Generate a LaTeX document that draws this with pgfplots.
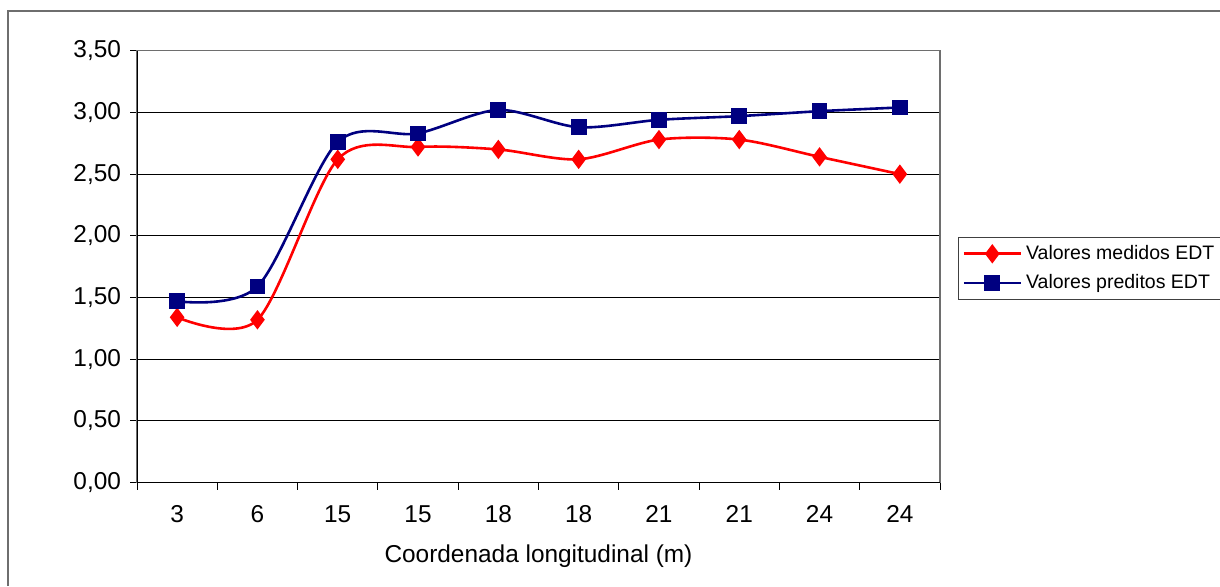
\documentclass[border=0pt]{standalone}
\usepackage{fontspec}
\setmainfont{Liberation Sans}
\usepackage{pgfplots}
\pgfplotsset{compat=1.18}

\definecolor{medido}{RGB}{255,0,0}
\definecolor{predito}{RGB}{0,0,128}
\definecolor{frame}{RGB}{110,110,110}

\begin{document}
\begin{tikzpicture}
\begin{axis}[
    at={(68.5pt,51.65pt)}, anchor=south west,
    scale only axis,
    width=401.5pt, height=216pt,
    xmin=0.5, xmax=10.5,
    ymin=0, ymax=3.5,
    xtick={1,...,10},
    xticklabels={3,6,15,15,18,18,21,21,24,24},
    minor xtick={0.5,1.5,...,10.5},
    major x tick style={draw=none},
    ytick={0,0.5,...,3.5},
    tick align=outside,
    tick pos=left,
    major tick length=3.5pt,
    minor tick length=3.5pt,
    tick style={black, line width=0.5pt},
    ymajorgrids,
    major grid style={black, line width=0.5pt},
    axis line style={frame, line width=0.6pt},
    ticklabel style={font=\fontsize{12.2}{14}\selectfont},
    yticklabel style={xshift=-1.0pt},
    xticklabel style={yshift=-4.5pt},
    /pgf/number format/.cd, fixed, fixed zerofill, precision=2, use comma,
    assume math mode=true,
    /pgfplots/.cd,
    xlabel={Coordenada longitudinal (m)},
    xlabel style={at={(rel axis cs:0.5,0)}, anchor=base, yshift=-39.8pt,
                  font=\fontsize{12.2}{14}\selectfont},
    legend style={at={(axis description cs:1.0224,0.5694)}, anchor=north west,
                  draw=black!75, line width=0.5pt,
                  font=\fontsize{9.75}{11}\selectfont,
                  inner xsep=2pt, inner ysep=2pt,
                  row sep=2pt},
    legend cell align=left,
    legend image code/.code={
        \draw[#1, mark repeat=2, mark phase=2]
        plot coordinates {(0pt,0pt) (14.25pt,0pt) (28.5pt,0pt)};
    },
]
\addplot[medido, line width=1.3pt, smooth, mark=diamond*,
         mark size=3.8pt, mark options={solid, fill=medido}]
  coordinates {(1,1.34) (2,1.32) (3,2.62) (4,2.72) (5,2.70)
               (6,2.62) (7,2.78) (8,2.78) (9,2.64) (10,2.50)};
\addplot[predito, line width=1.3pt, smooth, mark=square*,
         mark size=3.3pt, mark options={solid, fill=predito}]
  coordinates {(1,1.47) (2,1.59) (3,2.76) (4,2.83) (5,3.02)
               (6,2.88) (7,2.94) (8,2.97) (9,3.01) (10,3.04)};
\legend{Valores medidos EDT, Valores preditos EDT}
\draw[black, line width=0.6pt] (rel axis cs:0,1) -- (rel axis cs:0,0) -- (rel axis cs:1,0);
\end{axis}
\draw[frame, line width=0.75pt] (4pt,0pt) -- (4pt,287.5pt) -- (612pt,287.5pt);
\pgfresetboundingbox
\useasboundingbox (0,0) rectangle (610pt,293pt);
\end{tikzpicture}
\end{document}
